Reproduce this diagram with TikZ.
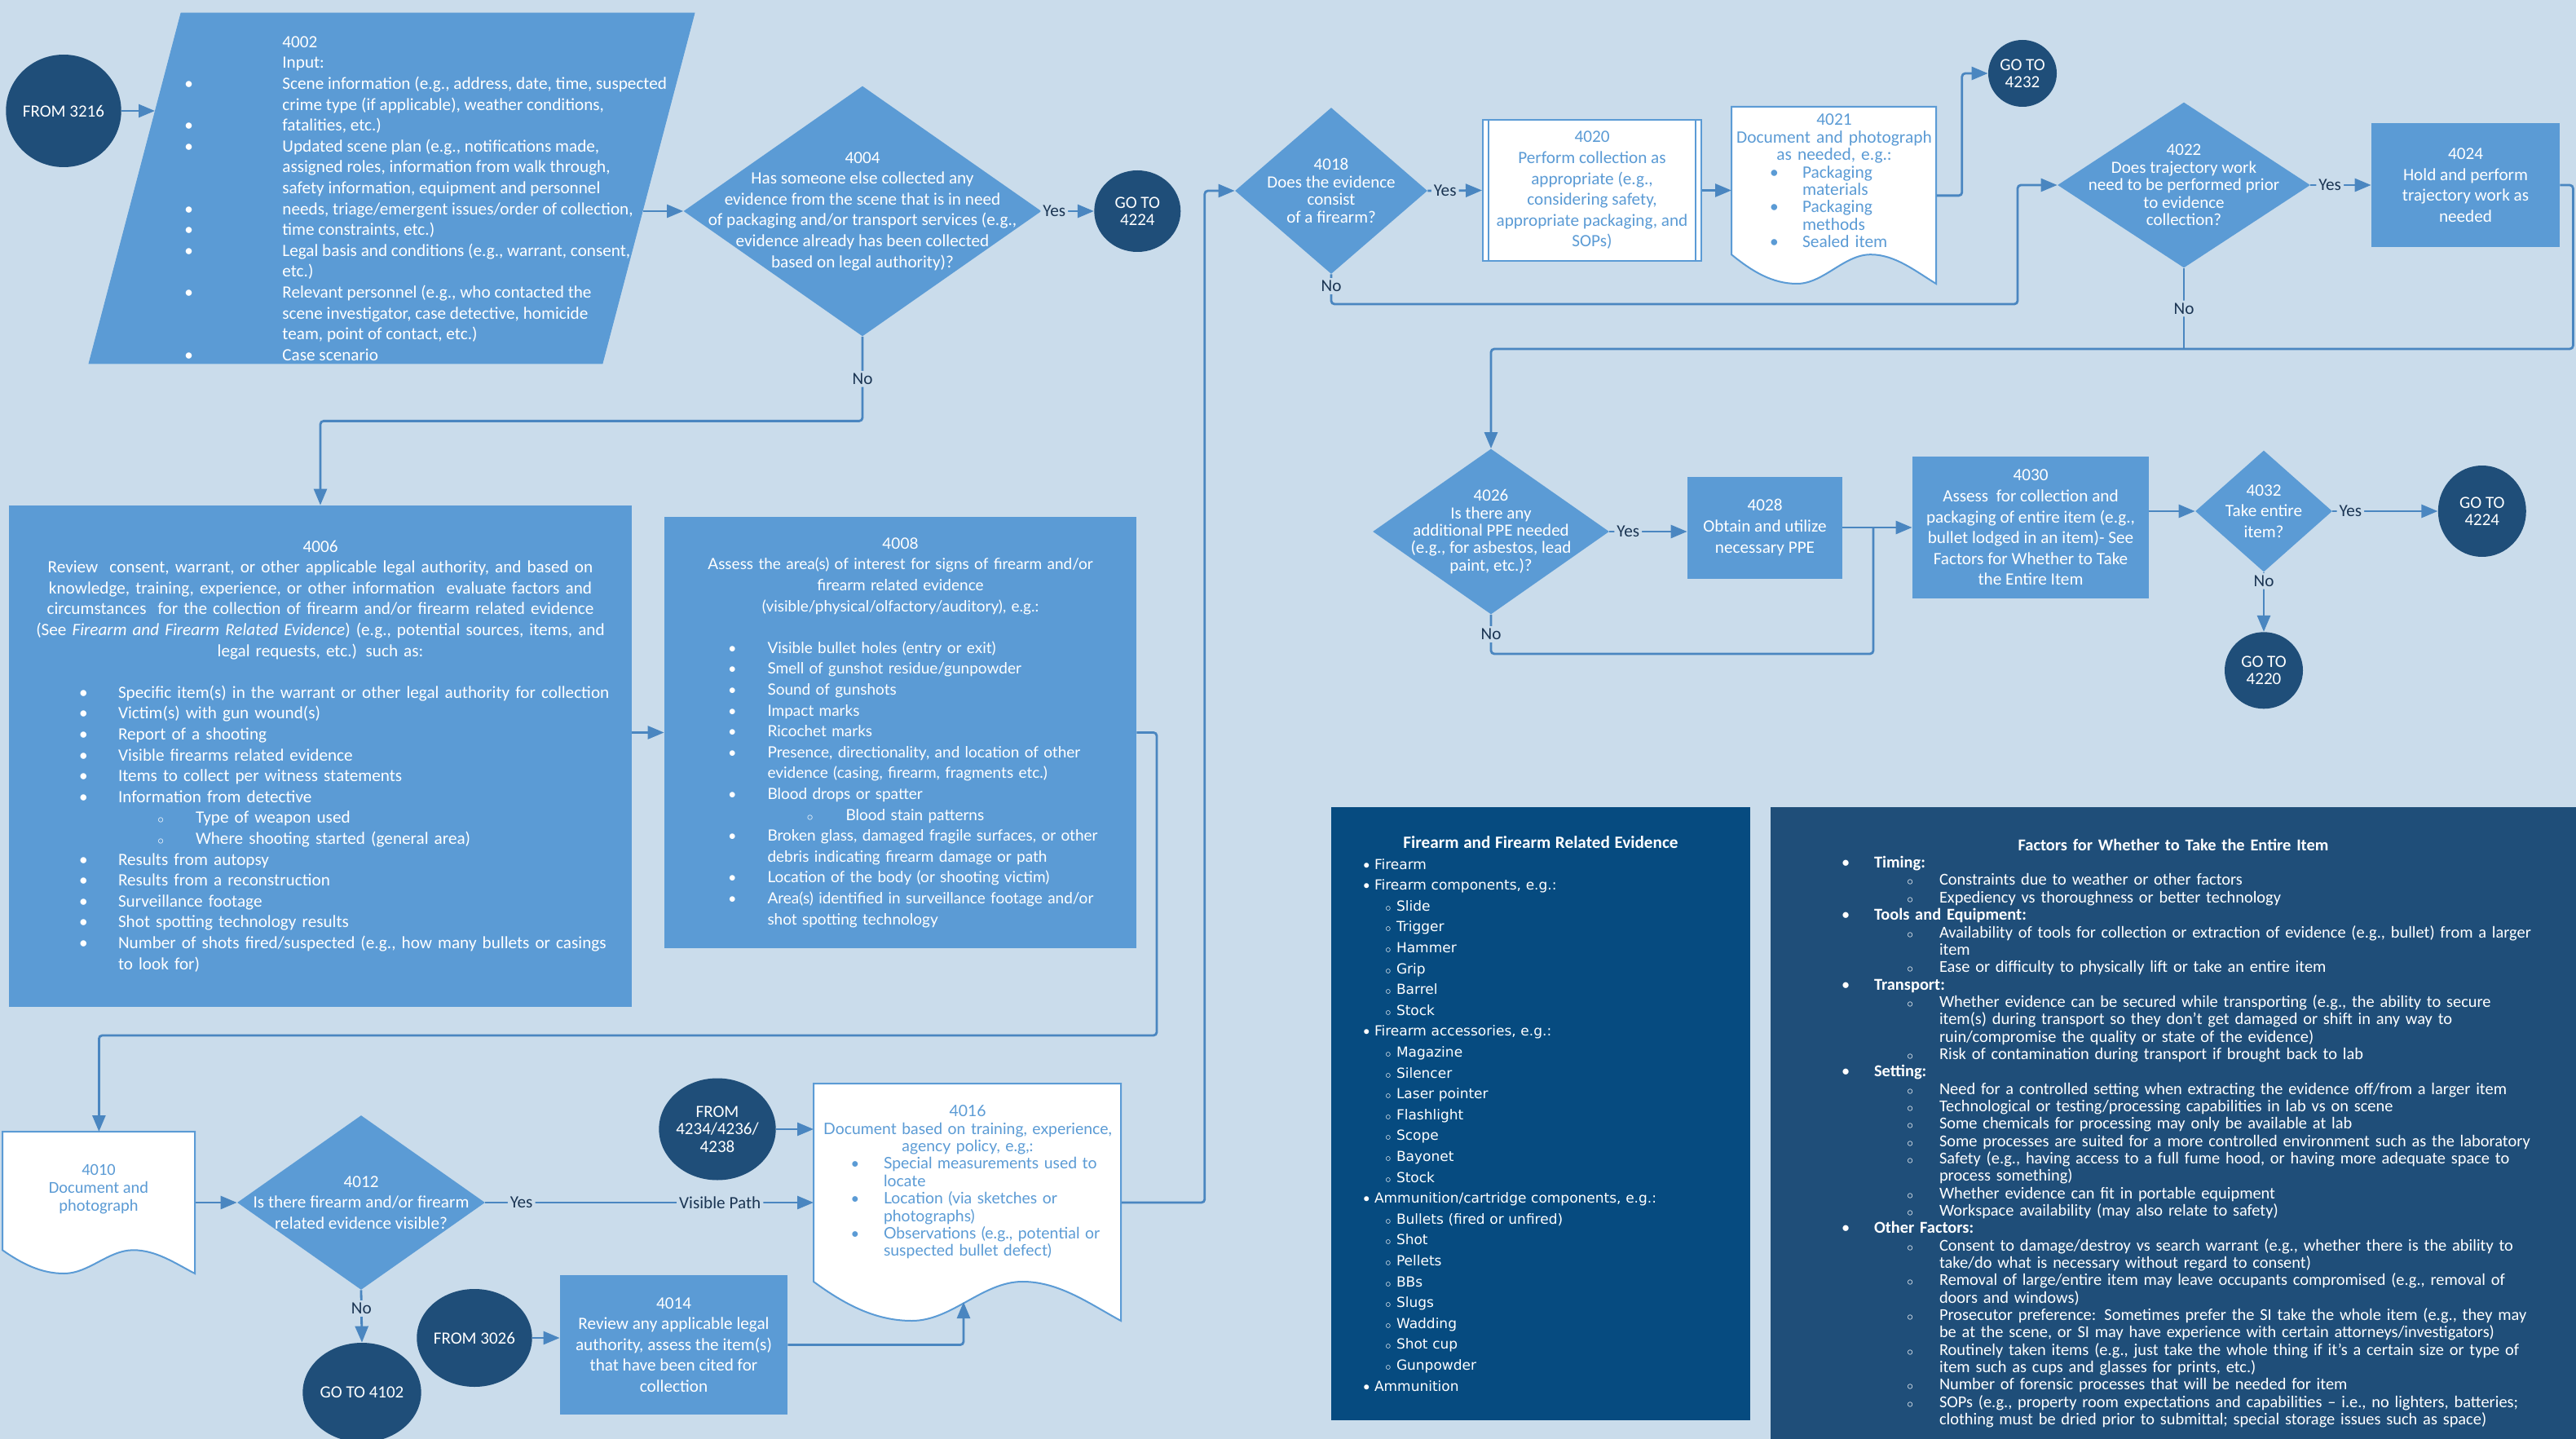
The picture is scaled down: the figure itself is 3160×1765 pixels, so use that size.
\documentclass[tikz,border=0pt]{standalone}
\usepackage{fontspec}
\setmainfont{Carlito}
\newfontfamily\latofont{Lato}
\newfontfamily\dejafont{DejaVu Sans}
\usepackage{enumitem}
\usetikzlibrary{shapes.geometric,positioning,calc,arrows.meta}

\definecolor{bgblue}{HTML}{CADCEB}
\definecolor{stepblue}{HTML}{5B9BD5}
\definecolor{navyblue}{HTML}{1F4E79}
\definecolor{evidblue}{HTML}{064B80}
\definecolor{linkblue}{HTML}{4A86C0}
\definecolor{lbltext}{HTML}{1B3553}

\newcommand{\flowfont}{\fontsize{10.6pt}{12.8pt}\selectfont}
\newcommand{\tightfont}{\fontsize{10.5pt}{10.7pt}\selectfont}
\newcommand{\latoflow}{\latofont\fontsize{9.5pt}{12.8pt}\selectfont}
\newcommand{\latodoc}{\latofont\fontsize{9.7pt}{10.7pt}\selectfont}
\newcommand{\evidfont}{\dejafont\fontsize{8.5pt}{12.8pt}\selectfont}
\newcommand{\factfont}{\fontsize{10.2pt}{10.67pt}\selectfont}

\setlist[itemize]{nosep, align=left, labelwidth=8pt}
\setlist[itemize,2]{label=$\scriptstyle\circ$}

\tikzset{
  flow/.style={draw=linkblue, line width=1.4pt, rounded corners=2pt, -{Triangle[length=10pt,width=8pt]}},
  link/.style={draw=linkblue, line width=1.4pt, rounded corners=2pt},
  stepbox/.style={rectangle, fill=stepblue, text=white, align=center, inner sep=0pt, font=\flowfont},
  decision/.style={diamond, fill=stepblue, inner sep=0pt},
  dtext/.style={text=white, align=center, inner sep=0pt, font=\flowfont},
  terminal/.style={ellipse, fill=navyblue, text=white, align=center, inner sep=0pt, font=\tightfont},
  lbl/.style={fill=bgblue, text=lbltext, inner sep=1.5pt, font=\flowfont},
  docline/.style={fill=white, draw=stepblue, line width=1pt},
  doctext/.style={text=stepblue, align=center, inner sep=0pt},
}

% document sheet with wavy bottom: name, left, top, width, height (px)
\newcommand{\wavydoc}[5]{%
  \filldraw[docline] (#2,#3) -- (#2+#4,#3) -- (#2+#4,#3+#5)
    .. controls (#2+0.9*#4,#3+0.93*#5) and (#2+0.8*#4,#3+0.835*#5) .. (#2+0.68*#4,#3+0.835*#5)
    .. controls (#2+0.55*#4,#3+0.835*#5) and (#2+0.45*#4,#3+#5) .. (#2+0.32*#4,#3+#5)
    .. controls (#2+0.2*#4,#3+#5) and (#2+0.1*#4,#3+0.93*#5) .. (#2,#3+0.835*#5) -- cycle;
  \node[inner sep=0pt, minimum width=#4*0.5pt, minimum height=#5*0.5pt, anchor=north west] (#1) at (#2,#3) {};
}

\begin{document}
\begin{tikzpicture}[x=0.5pt, y=-0.5pt]
\useasboundingbox (0,0) rectangle (3160,1765);
\fill[bgblue] (0,0) rectangle (3160,1765);

% input
\node[terminal, minimum width=67pt, minimum height=69pt] (c3216) at (78,136) {FROM 3216};
\filldraw[fill=stepblue, draw=stepblue] (222,16) -- (852,16) -- (739,446) -- (109,446) -- cycle;
\coordinate (in4002) at (190,136);
\coordinate (out4002) at (789,259);
\node[anchor=north west, inner sep=0pt, text=white, font=\flowfont] (t4002) at (226,40) {%
\begin{tabular}{@{}p{60pt}@{}l@{}}
 & 4002\\
 & Input:\\
\textbullet & Scene information (e.g., address, date, time, suspected\\
 & crime type (if applicable), weather conditions,\\
\textbullet & fatalities, etc.)\\
\textbullet & Updated scene plan (e.g., notifications made,\\
 & assigned roles,  information from walk through,\\
 & safety information, equipment and personnel\\
\textbullet & needs, triage/emergent issues/order of collection,\\
\textbullet & time constraints, etc.)\\
\textbullet & Legal basis and conditions (e.g., warrant, consent,\\
 & etc.)\\
\textbullet & Relevant personnel (e.g., who contacted the\\
 & scene investigator, case detective, homicide\\
 & team, point of contact, etc.)\\
\textbullet & Case scenario
\end{tabular}};

\node[decision, minimum width=219.5pt, minimum height=153.5pt] (q4004) at (1058,259) {};
\node[dtext] (t4004) at (q4004) {4004\\Has someone else collected any\\evidence from the scene that is in need\\of packaging and/or transport services (e.g.,\\evidence already has been collected\\based on legal authority)?};
\node[terminal, minimum width=53pt, minimum height=50pt, right=32pt of q4004] (c4224a) {GO TO\\4224};

% review and assess
\node[stepbox, minimum width=382pt, minimum height=307.5pt, text width=360pt, align=left] (r4006) at (393,927.5) {%
{\centering 4006\\
Review \ consent, warrant, or other applicable legal authority, and based on\\
knowledge, training, experience, or other information \ evaluate factors and\\
circumstances \ for the collection of firearm and/or firearm related evidence\\
(See \textit{Firearm and Firearm Related Evidence}) (e.g., potential sources, items, and\\
legal requests, etc.) such as:\par}
\vspace{12.8pt}
\begin{itemize}[leftmargin=56pt, labelsep=16pt]
\item Specific item(s) in the warrant or other legal authority for collection
\item Victim(s) with gun wound(s)
\item Report of a shooting
\item Visible firearms related evidence
\item Items to collect per witness statements
\item Information from detective
  \begin{itemize}[leftmargin=47.5pt, labelsep=15.5pt]
  \item Type of weapon used
  \item Where shooting started (general area)
  \end{itemize}
\item Results from autopsy
\item Results from a reconstruction
\item Surveillance footage
\item Shot spotting technology results
\item Number of shots fired/suspected (e.g., how many bullets or casings\newline to look for)
\end{itemize}};

\node[stepbox, minimum width=289.5pt, minimum height=264.5pt, text width=275pt, align=left, font=\latoflow] (r4008) at (1104.5,898.5) {%
{\centering 4008\\
Assess the area(s) of interest for signs of firearm and/or\\
firearm related evidence\\
(visible/physical/olfactory/auditory), e.g.:\par}
\vspace{12.8pt}
\begin{itemize}[leftmargin=56pt, labelsep=16pt]
\item Visible bullet holes (entry or exit)
\item Smell of gunshot residue/gunpowder
\item Sound of gunshots
\item Impact marks
\item Ricochet marks
\item Presence, directionality, and location of other\newline evidence (casing, firearm, fragments etc.)
\item Blood drops or spatter
  \begin{itemize}[leftmargin=48pt, labelsep=16pt]
  \item Blood stain patterns
  \end{itemize}
\item Broken glass, damaged fragile surfaces, or other\newline debris indicating firearm damage or path
\item Location of the body (or shooting victim)
\item Area(s) identified in surveillance footage and/or\newline shot spotting technology
\end{itemize}};

% lower left
\wavydoc{d4010}{3}{1388}{236}{174}
\node[doctext, font={\fontsize{10.2pt}{11pt}\selectfont}] (t4010) at (121,1459) {4010\\Document and\\photograph};

\node[decision, minimum width=152pt, minimum height=107pt] (q4012) at (443,1475) {};
\node[dtext] (t4012) at (q4012) {4012\\Is there firearm and/or firearm\\related evidence visible?};
\node[terminal, minimum width=64pt, minimum height=61pt] (c4102) at (444,1708) {GO TO 4102};

\node[terminal, minimum width=59pt, minimum height=60pt] (c3026) at (582,1641) {FROM 3026};
\node[stepbox, minimum width=139.5pt, minimum height=85.5pt] (r4014) at (826.5,1649.5) {4014\\Review any applicable legal\\authority, assess the item(s)\\that have been cited for\\collection};
\node[terminal, minimum width=63.5pt, minimum height=62.5pt] (c4234) at (880,1385) {FROM\\4234/4236/\\4238};

\wavydoc{d4016}{998}{1329}{377}{291}
\coordinate (w4016) at (1182,1597);
\node[inner sep=0pt, text=stepblue, text width=188pt, align=left, font=\latodoc] (t4016) at (1187,1450) {%
{\centering 4016\\Document based on training, experience,\\agency policy, e.g,:\par}
\begin{itemize}[leftmargin=42.5pt, labelsep=12pt]
\item Special measurements used to\newline locate
\item Location (via sketches or\newline photographs)
\item Observations (e.g., potential or\newline suspected bullet defect)
\end{itemize}};

% top right
\node[decision, minimum width=118pt, minimum height=102pt] (q4018) at (1633,234) {};
\node[dtext, font=\tightfont] (t4018) at (q4018) {4018\\Does the evidence\\consist\\of a firearm?};

\node[rectangle, fill=white, draw=stepblue, line width=1pt, minimum width=134pt, minimum height=86.5pt, text=stepblue, align=center, inner sep=0pt, font=\flowfont] (r4020) at (1953,233.5) {4020\\Perform collection as\\appropriate (e.g.,\\considering safety,\\appropriate packaging, and\\SOPs)};
\draw[stepblue, line width=1pt] ([xshift=4pt]r4020.north west) -- ([xshift=4pt]r4020.south west)
  ([xshift=-4pt]r4020.north east) -- ([xshift=-4pt]r4020.south east);

\wavydoc{d4021}{2124}{131}{251}{217}
\node[inner sep=0pt, text=stepblue, text width=130pt, align=left, font={\fontsize{10.7pt}{10.7pt}\selectfont}] (t4021) at (2250,222) {%
{\centering 4021\\Document and photograph\\as needed, e.g.:\par}
\begin{itemize}[leftmargin=45.5pt, labelsep=12pt]
\item Packaging\newline materials
\item Packaging\newline methods
\item Sealed item
\end{itemize}};
\node[terminal, minimum width=42pt, minimum height=41pt] (c4232) at (2481,90) {GO TO\\4232};

\node[decision, minimum width=155pt, minimum height=101.5pt] (q4022) at (2679,227) {};
\node[dtext, font=\tightfont] (t4022) at (q4022) {4022\\Does trajectory work\\need to be performed prior\\to evidence\\collection?};
\node[stepbox, minimum width=115.5pt, minimum height=76pt] (r4024) at (3024.5,227) {4024\\Hold and perform\\trajectory work as\\needed};

% PPE and entire item
\node[decision, minimum width=145pt, minimum height=101.5pt] (q4026) at (1829,652) {};
\node[dtext, font=\tightfont] (t4026) at (q4026) {4026\\Is there any\\additional PPE needed\\(e.g., for asbestos, lead\\paint, etc.)?};
\node[stepbox, minimum width=95pt, minimum height=62.5pt] (r4028) at (2165,647) {4028\\Obtain and utilize\\necessary PPE};
\node[stepbox, minimum width=145pt, minimum height=87pt] (r4030) at (2491,647) {4030\\Assess \ for collection and\\packaging of entire item (e.g.,\\bullet lodged in an item)- See\\Factors for Whether to Take\\the Entire Item};
\node[decision, minimum width=84pt, minimum height=74.5pt] (q4032) at (2777,627) {};
\node[dtext] (t4032) at (q4032) {4032\\Take entire\\item?};
\node[terminal, minimum width=54pt, minimum height=56pt, right=64.5pt of q4032] (c4224b) {GO TO\\4224};
\node[terminal, minimum width=48pt, minimum height=47pt, below=36.5pt of q4032] (c4220) {GO TO\\4220};

% side panels
\node[rectangle, fill=evidblue, text=white, minimum width=257pt, minimum height=376pt, text width=240pt, align=left, inner sep=0pt, font=\evidfont] (evid) at (1890,1366) {%
{\centering\rmfamily\bfseries\fontsize{10.6pt}{12.8pt}\selectfont Firearm and Firearm Related Evidence\par}
\begin{itemize}[leftmargin=18pt, labelwidth=5pt, labelsep=2pt]
\item Firearm
\item Firearm components, e.g.:
  \begin{itemize}[leftmargin=13.5pt, labelwidth=5pt, labelsep=2pt]
  \item Slide
  \item Trigger
  \item Hammer
  \item Grip
  \item Barrel
  \item Stock
  \end{itemize}
\item Firearm accessories, e.g.:
  \begin{itemize}[leftmargin=13.5pt, labelwidth=5pt, labelsep=2pt]
  \item Magazine
  \item Silencer
  \item Laser pointer
  \item Flashlight
  \item Scope
  \item Bayonet
  \item Stock
  \end{itemize}
\item Ammunition/cartridge components, e.g.:
  \begin{itemize}[leftmargin=13.5pt, labelwidth=5pt, labelsep=2pt]
  \item Bullets (fired or unfired)
  \item Shot
  \item Pellets
  \item BBs
  \item Slugs
  \item Wadding
  \item Shot cup
  \item Gunpowder
  \end{itemize}
\item Ammunition
\end{itemize}};

\node[rectangle, fill=navyblue, text=white, minimum width=494.5pt, minimum height=400pt, text width=446pt, align=left, inner sep=0pt, font=\factfont] (factors) at (2666,1390) {%
{\centering\bfseries Factors for Whether to Take the Entire Item\par}
\begin{itemize}[leftmargin=39.5pt, labelsep=12pt]
\item \textbf{Timing:}
  \begin{itemize}[leftmargin=40pt, labelsep=12pt]
  \item Constraints due to weather or other factors
  \item Expediency vs thoroughness or better technology
  \end{itemize}
\item \textbf{Tools and Equipment:}
  \begin{itemize}[leftmargin=40pt, labelsep=12pt]
  \item Availability of tools for collection or extraction of evidence (e.g., bullet) from a larger\newline item
  \item Ease or difficulty to physically lift or take an entire item
  \end{itemize}
\item \textbf{Transport:}
  \begin{itemize}[leftmargin=40pt, labelsep=12pt]
  \item Whether evidence can be secured while transporting (e.g., the ability to secure\newline item(s) during transport so they don't get damaged or shift in any way to\newline ruin/compromise the quality or state of the evidence)
  \item Risk of contamination during transport if brought back to lab
  \end{itemize}
\item \textbf{Setting:}
  \begin{itemize}[leftmargin=40pt, labelsep=12pt]
  \item Need for a controlled setting when extracting the evidence off/from a larger item
  \item Technological or testing/processing capabilities in lab vs on scene
  \item Some chemicals for processing may only be available at lab
  \item Some processes are suited for a more controlled environment such as the laboratory
  \item Safety (e.g., having access to a full fume hood, or having more adequate space to\newline process something)
  \item Whether evidence can fit in portable equipment
  \item Workspace availability (may also relate to safety)
  \end{itemize}
\item \textbf{Other Factors:}
  \begin{itemize}[leftmargin=40pt, labelsep=12pt]
  \item Consent to damage/destroy vs search warrant (e.g., whether there is the ability to\newline take/do what is necessary without regard to consent)
  \item Removal of large/entire item may leave occupants compromised (e.g., removal of\newline doors and windows)
  \item Prosecutor preference: Sometimes prefer the SI take the whole item (e.g., they may\newline be at the scene, or SI may have experience with certain attorneys/investigators)
  \item Routinely taken items (e.g., just take the whole thing if it's a certain size or type of\newline item such as cups and glasses for prints, etc.)
  \item Number of forensic processes that will be needed for item
  \item SOPs (e.g., property room expectations and capabilities – i.e., no lighters, batteries;\newline clothing must be dried prior to submittal; special storage issues such as space)
  \end{itemize}
\end{itemize}};

% connectors
\coordinate (j4008) at (1419,1270);
\coordinate (j4018) at (2475,373);
\coordinate (j4024) at (1829,428);
\coordinate (j4026) at (2298,802);

\draw[flow] (c3216.east) -- (in4002);
\draw[flow] (out4002) -- (q4004.west);
\draw[flow] (q4004.east) -- node[lbl, pos=0.24] {Yes} (c4224a.west);
\draw[flow] (q4004.south) -- node[lbl] {No} ++(0,103.5) -| (r4006.north);
\draw[flow] (r4006.east |- r4008.west) -- (r4008.west);
\draw[flow] (r4008.east) -| (j4008) -| (d4010.north);
\draw[flow] (d4010.east |- q4012.west) -- (q4012.west);
\draw[flow] (q4012.east) -- node[lbl, pos=0.11] {Yes} node[lbl, pos=0.715] {Visible Path} (q4012.east -| d4016.west);
\draw[flow] (q4012.south) -- node[lbl, pos=0.35] {No} (c4102.north);
\draw[flow] (c3026.east) -- (c3026.east -| r4014.west);
\draw[flow] (r4014.east) -| (w4016);
\draw[flow] (c4234.east) -- (c4234.east -| d4016.west);
\draw[flow] (d4016.east |- q4012.east) -- ++(102,0) |- (q4018.west);
\draw[flow] (q4018.east) -- node[lbl, pos=0.32] {Yes} (r4020.west);
\draw[flow] (r4020.east) -- (r4020.east -| d4021.west);
\draw[flow] (d4021.east) -- ++(31,0) |- (c4232.west);
\draw[flow] (q4018.south) |- node[lbl, pos=0.2] {No} (j4018) |- (q4022.west);
\draw[flow] (q4022.east) -- node[lbl, pos=0.32] {Yes} (r4024.west);
\draw[flow] (r4024.east) -- ++(16,0) |- (j4024) -- (q4026.north);
\draw[link] (q4022.south) -- node[lbl] {No} (q4022.south |- j4024);
\draw[flow] (q4026.east) -- node[lbl, pos=0.24] {Yes} (q4026.east -| r4028.west);
\draw[flow] (r4028.east) -- (r4028.east -| r4030.west);
\draw[link] (q4026.south) |- node[lbl, pos=0.25] {No} (j4026) -- (j4026 |- r4030.west);
\draw[flow] (r4030.east |- q4032.west) -- (q4032.west);
\draw[flow] (q4032.east) -- node[lbl, pos=0.17] {Yes} (c4224b.west);
\draw[flow] (q4032.south) -- node[lbl, pos=0.15] {No} (c4220.north);
\end{tikzpicture}
\end{document}
